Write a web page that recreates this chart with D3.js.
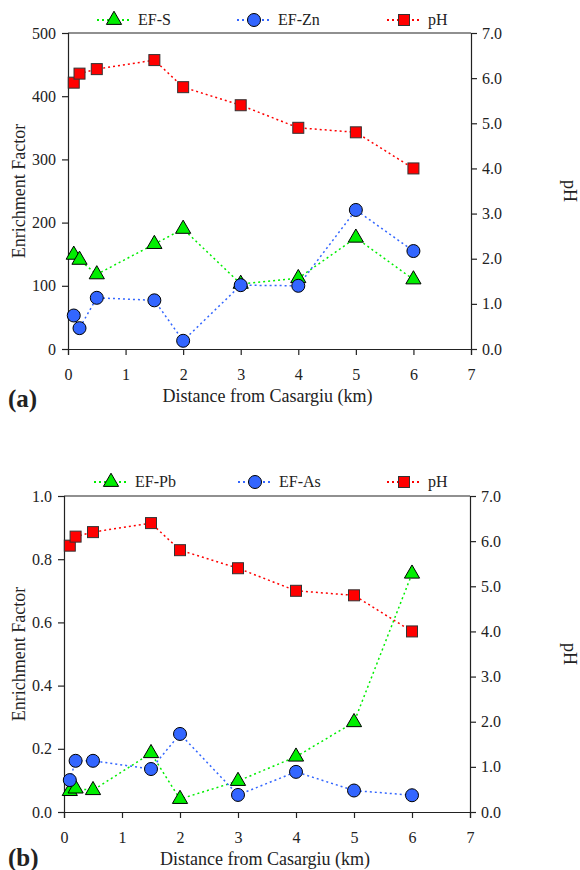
<!DOCTYPE html>
<html><head><meta charset="utf-8">
<script src="https://cdn.jsdelivr.net/npm/d3@7"></script>
<style>body{margin:0;background:#fff}svg{display:block}</style>
</head><body>
<svg id="c" width="580" height="870"></svg>
<script>
const distance = [0.1, 0.2, 0.5, 1.5, 2, 3, 4, 5, 6];
const pH = [5.9, 6.1, 6.2, 6.4, 5.8, 5.4, 4.9, 4.8, 4.0];
const efS = [149, 141, 118, 166, 190, 103, 112, 176, 110];
const efZn = [53, 33, 81, 77, 13, 101, 100, 220, 155];
const efPb = [0.066, 0.074, 0.069, 0.186, 0.041, 0.098, 0.175, 0.284, 0.754];
const efAs = [0.101, 0.162, 0.162, 0.136, 0.247, 0.054, 0.127, 0.068, 0.053];
const xTicks = [0, 1, 2, 3, 4, 5, 6, 7];
const yTicksA = [0, 100, 200, 300, 400, 500];
const yTicksB = [0, 0.2, 0.4, 0.6, 0.8, 1.0];
const pHTicks = [0, 1, 2, 3, 4, 5, 6, 7];

const svg = d3.select("#c");
const GREEN = "#00ee00", BLUE = "#3366ff", RED = "#ff0000";

function panel(cfg) {
  const g = svg.append("g");
  const x = d3.scaleLinear().domain([0, 7]).range([cfg.left, cfg.right]);
  const y = d3.scaleLinear().domain(cfg.yDomain).range([cfg.bottom, cfg.top]);
  const y2 = d3.scaleLinear().domain([0, 7]).range([cfg.bottom, cfg.top]);

  g.append("line").attr("x1", cfg.left).attr("x2", cfg.right).attr("y1", cfg.top).attr("y2", cfg.top)
    .attr("stroke", "#222").attr("stroke-width", 1.2);

  const ax = g.append("g").attr("transform", `translate(0,${cfg.bottom})`)
    .call(d3.axisBottom(x).tickValues(xTicks).tickFormat(d3.format("d")).tickSizeOuter(0).tickSize(6).tickPadding(14));
  const ay = g.append("g").attr("transform", `translate(${cfg.left},0)`)
    .call(d3.axisLeft(y).tickValues(cfg.yTicks).tickFormat(cfg.yFmt).tickSizeOuter(0).tickSize(6).tickPadding(6));
  const ay2 = g.append("g").attr("transform", `translate(${cfg.right},0)`)
    .call(d3.axisRight(y2).tickValues(pHTicks).tickFormat(d3.format(".1f")).tickSizeOuter(0).tickSize(6).tickPadding(5));
  [ax, ay, ay2].forEach(a => {
    a.selectAll("path").attr("stroke", "#222").attr("stroke-width", 1.2);
    a.selectAll("line").attr("stroke", "#222").attr("stroke-width", 1.2);
    a.selectAll("text").attr("fill", "#222").style("font-size", "16px");
  });

  g.append("text").attr("x", (cfg.left + cfg.right) / 2 - 2).attr("y", cfg.bottom + 53)
    .attr("text-anchor", "middle").style("font-size", "18px").text("Distance from Casargiu (km)");
  g.append("text").attr("transform", `translate(${cfg.ylabX},${(cfg.top + cfg.bottom) / 2}) rotate(-90)`)
    .attr("text-anchor", "middle").style("font-size", "18px").text("Enrichment Factor");
  g.append("text").attr("transform", `translate(564,${(cfg.top + cfg.bottom) / 2}) rotate(90)`)
    .attr("text-anchor", "middle").style("font-size", "18px").text("pH");
  g.append("text").attr("x", 8).attr("y", cfg.bottom + cfg.tagDy).style("font-size", "25px").style("font-weight", "bold")
    .attr("fill", "#000").text(cfg.tag);

  const line = (vals, sc) => d3.line().x((d, i) => x(distance[i])).y(d => sc(d))(vals);
  const dash = "2,3";
  g.append("path").attr("d", line(cfg.s1, y)).attr("fill", "none").attr("stroke", GREEN).attr("stroke-width", 1.5).attr("stroke-dasharray", dash);
  g.append("path").attr("d", line(cfg.s2, y)).attr("fill", "none").attr("stroke", BLUE).attr("stroke-width", 1.5).attr("stroke-dasharray", dash);
  g.append("path").attr("d", line(pH, y2)).attr("fill", "none").attr("stroke", RED).attr("stroke-width", 1.5).attr("stroke-dasharray", dash);

  const tri = d3.symbol().type(d3.symbolTriangle).size(100);
  g.selectAll(null).data(cfg.s1).join("path")
    .attr("d", tri).attr("transform", (d, i) => `translate(${x(distance[i])},${y(d)})`)
    .attr("fill", GREEN).attr("stroke", "#000").attr("stroke-width", 1);
  g.selectAll(null).data(cfg.s2).join("circle")
    .attr("cx", (d, i) => x(distance[i])).attr("cy", d => y(d)).attr("r", 6.5)
    .attr("fill", BLUE).attr("stroke", "#000").attr("stroke-width", 1);
  g.selectAll(null).data(pH).join("rect")
    .attr("x", (d, i) => x(distance[i]) - 5.5).attr("y", d => y2(d) - 5.5).attr("width", 11).attr("height", 11)
    .attr("fill", RED).attr("stroke", "#333").attr("stroke-width", 1);

  const ly = cfg.legendY;
  const items = [
    {x1: cfg.leg[0], label: cfg.names[0], color: GREEN, sym: "tri"},
    {x1: cfg.leg[1], label: cfg.names[1], color: BLUE, sym: "circ"},
    {x1: cfg.leg[2], label: "pH", color: RED, sym: "sq"}
  ];
  items.forEach(it => {
    g.append("line").attr("x1", it.x1).attr("x2", it.x1 + 34).attr("y1", ly).attr("y2", ly)
      .attr("stroke", it.color).attr("stroke-width", 2).attr("stroke-dasharray", "2,3");
    const cx = it.x1 + 17;
    if (it.sym === "tri") g.append("path").attr("d", tri).attr("transform", `translate(${cx},${ly})`).attr("fill", GREEN).attr("stroke", "#000");
    if (it.sym === "circ") g.append("circle").attr("cx", cx).attr("cy", ly).attr("r", 6.5).attr("fill", BLUE).attr("stroke", "#000");
    if (it.sym === "sq") g.append("rect").attr("x", cx - 5.5).attr("y", ly - 5.5).attr("width", 11).attr("height", 11).attr("fill", RED).attr("stroke", "#333");
    g.append("text").attr("x", it.x1 + 41).attr("y", ly + 5).style("font-size", "16px").text(it.label);
  });
}

panel({left: 68, right: 471, top: 33, bottom: 349, yDomain: [0, 500], yTicks: yTicksA, yFmt: d3.format("d"),
  s1: efS, s2: efZn, names: ["EF-S", "EF-Zn"], legendY: 20, leg: [97, 237, 387], tag: "(a)", tagDy: 58, ylabX: 25});
panel({left: 64, right: 470, top: 496, bottom: 812, yDomain: [0, 1], yTicks: yTicksB, yFmt: d3.format(".1f"),
  s1: efPb, s2: efAs, names: ["EF-Pb", "EF-As"], legendY: 482, leg: [94, 238, 387], tag: "(b)", tagDy: 54, ylabX: 25});

svg.selectAll("text").style("font-family", '"Liberation Serif"').attr("fill", "#222");
</script>
</body></html>
